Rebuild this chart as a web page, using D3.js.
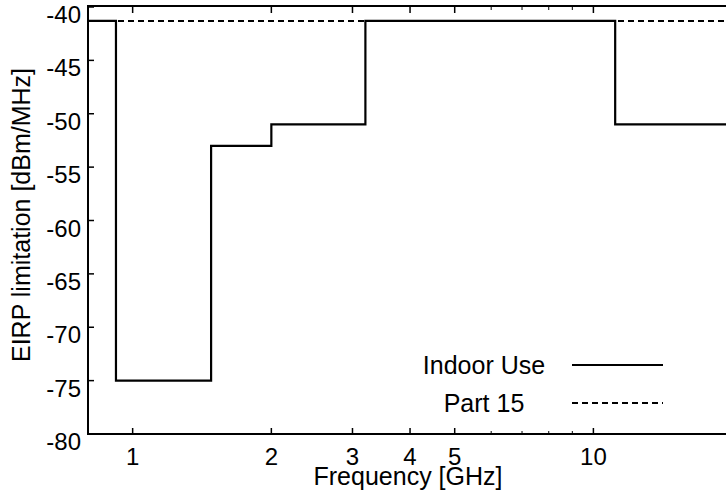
<!DOCTYPE html>
<html>
<head>
<meta charset="utf-8">
<script src="https://cdn.jsdelivr.net/npm/d3@7/dist/d3.min.js"></script>
<style>
  html, body { margin: 0; padding: 0; background: #fff; }
  svg text { font-family: "Liberation Sans", Arial, Helvetica, sans-serif; fill: #000; }
</style>
</head>
<body>
<svg id="chart" width="726" height="493"></svg>
<script>
// Step edges (GHz) and EIRP levels (dBm/MHz) of the indoor mask
const indoorEdges = [0.8, 0.92, 1.48, 2.0, 3.2, 11.15, 19.4];
const indoorLevels = [-41.3, -75, -53, -51, -41.3, -51];
const part15Edges = [0.8, 19.4];
const part15Levels = [-41.3];
const xTicks = [1, 2, 3, 4, 5, 10];
const xMinorTicks = [6, 7, 8, 9];
const yTicks = [-80, -75, -70, -65, -60, -55, -50, -45, -40];
const legendNames = ["Indoor Use", "Part 15"];

const svg = d3.select("#chart");
const plotLeft = 88, plotRight = 726, plotTop = 7, plotBottom = 434;

const x = d3.scaleLog().domain([0.8, 19.4]).range([plotLeft, plotRight]);
const y = d3.scaleLinear().domain([-80, -40]).range([plotBottom, plotTop]);

// Build step polylines from edges/levels
function steps(edges, levels) {
  const pts = [];
  levels.forEach((v, i) => {
    pts.push([edges[i], v]);
    pts.push([edges[i + 1], v]);
  });
  return pts;
}
const line = d3.line().x(d => x(d[0])).y(d => y(d[1]));

// Frame: bottom, top, left
const g = svg.append("g");
g.append("line").attr("x1", plotLeft).attr("x2", plotRight).attr("y1", plotBottom).attr("y2", plotBottom)
  .attr("stroke", "#000").attr("stroke-width", 2);
g.append("line").attr("x1", plotLeft).attr("x2", plotRight).attr("y1", plotTop - 1).attr("y2", plotTop - 1)
  .attr("stroke", "#000").attr("stroke-width", 2);
g.append("line").attr("x1", plotLeft).attr("x2", plotLeft).attr("y1", plotTop - 2).attr("y2", plotBottom + 1)
  .attr("stroke", "#000").attr("stroke-width", 2);

// Y ticks (inward) and labels
yTicks.forEach(v => {
  g.append("line").attr("x1", plotLeft).attr("x2", plotLeft + 6).attr("y1", y(v)).attr("y2", y(v))
    .attr("stroke", "#000").attr("stroke-width", 1.5);
  g.append("text").attr("x", 81).attr("y", y(v) + 16).attr("text-anchor", "end")
    .attr("font-size", 24).text(v);
});

// X ticks (inward, bottom and top) and labels
xTicks.forEach(v => {
  g.append("line").attr("x1", x(v)).attr("x2", x(v)).attr("y1", plotBottom).attr("y2", plotBottom - 6)
    .attr("stroke", "#000").attr("stroke-width", 1.5);
  g.append("line").attr("x1", x(v)).attr("x2", x(v)).attr("y1", plotTop).attr("y2", plotTop + 6)
    .attr("stroke", "#000").attr("stroke-width", 1.5);
  g.append("text").attr("x", x(v)).attr("y", 465).attr("text-anchor", "middle")
    .attr("font-size", 24).text(v);
});
xMinorTicks.forEach(v => {
  g.append("line").attr("x1", x(v)).attr("x2", x(v)).attr("y1", plotBottom).attr("y2", plotBottom - 3)
    .attr("stroke", "#000").attr("stroke-width", 1);
  g.append("line").attr("x1", x(v)).attr("x2", x(v)).attr("y1", plotTop).attr("y2", plotTop + 3)
    .attr("stroke", "#000").attr("stroke-width", 1);
});

// Axis titles
g.append("text").attr("x", 408).attr("y", 485).attr("text-anchor", "middle")
  .attr("font-size", 25).text("Frequency [GHz]");
g.append("text").attr("transform", "translate(30,215) rotate(-90)").attr("text-anchor", "middle")
  .attr("font-size", 25).text("EIRP limitation [dBm/MHz]");

// Series
g.append("path").datum(steps(part15Edges, part15Levels)).attr("d", line)
  .attr("fill", "none").attr("stroke", "#000").attr("stroke-width", 2).attr("stroke-dasharray", "6,4");
g.append("path").datum(steps(indoorEdges, indoorLevels)).attr("d", line)
  .attr("fill", "none").attr("stroke", "#000").attr("stroke-width", 2.2);

// Legend
const legY = [365, 403];
legendNames.forEach((name, i) => {
  g.append("text").attr("x", 484).attr("y", legY[i] + 9).attr("text-anchor", "middle")
    .attr("font-size", 25).text(name);
  g.append("line").attr("x1", 572).attr("x2", 663).attr("y1", legY[i]).attr("y2", legY[i])
    .attr("stroke", "#000").attr("stroke-width", 2)
    .attr("stroke-dasharray", i === 1 ? "6,4" : null);
});
</script>
</body>
</html>
